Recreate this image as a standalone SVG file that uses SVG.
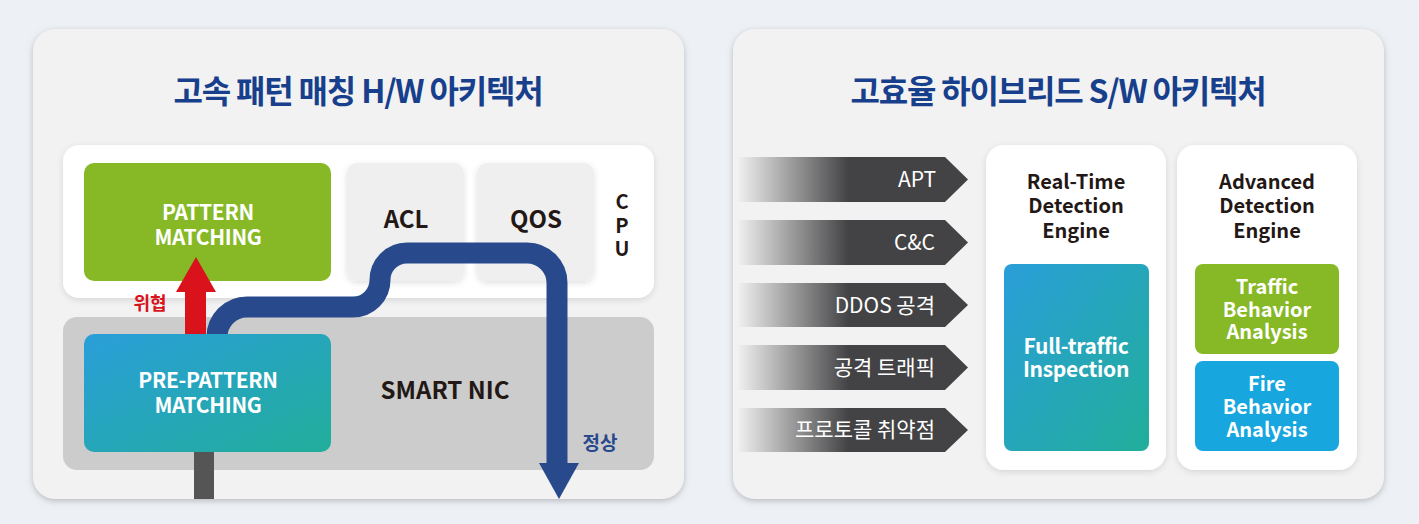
<svg xmlns="http://www.w3.org/2000/svg" width="1419" height="524" viewBox="0 0 1419 524">
<style>
text{font-family:"Noto Sans CJK KR","Noto Sans",sans-serif;}
.title{font-size:32px;font-weight:700;fill:#173f8c;text-anchor:middle;letter-spacing:-1.2px;}
.wt{font-size:21px;font-weight:700;fill:#ffffff;text-anchor:middle;letter-spacing:-0.3px;}
.wt3{font-size:20px;font-weight:700;fill:#ffffff;text-anchor:middle;}
.dk{font-size:22px;font-weight:700;fill:#231815;text-anchor:middle;}
.hd{font-size:20px;font-weight:700;fill:#231815;text-anchor:middle;}
.arr{font-size:21px;font-weight:400;fill:#ffffff;text-anchor:end;}
.panel{fill:#f2f2f2;filter:url(#sh1);}
.card{fill:#ffffff;filter:url(#sh2);}
.soft{fill:#efefef;filter:url(#sh2);}
</style>
<defs>
<filter id="sh1" x="-5%" y="-5%" width="110%" height="112%">
<feDropShadow dx="0" dy="2" stdDeviation="3" flood-color="#8a8a90" flood-opacity="0.55"/>
</filter>
<filter id="sh2" x="-10%" y="-10%" width="120%" height="125%">
<feDropShadow dx="0" dy="2" stdDeviation="3" flood-color="#000000" flood-opacity="0.12"/>
</filter>
<linearGradient id="bt" x1="0" y1="0" x2="1" y2="1">
<stop offset="0" stop-color="#2a9ed9"/>
<stop offset="1" stop-color="#21ae9a"/>
</linearGradient>
<linearGradient id="fade" gradientUnits="userSpaceOnUse" x1="738" y1="0" x2="968" y2="0">
<stop offset="0" stop-color="#f0f0f0"/>
<stop offset="0.48" stop-color="#434345"/>
<stop offset="1" stop-color="#434345"/>
</linearGradient>
</defs>
<rect width="1419" height="524" fill="#edf1f5"/>

<g id="panel-hw">
<rect class="panel" x="33" y="29" width="651" height="470" rx="22"/>
<text class="title" x="358" y="103">고속 패턴 매칭 H/W 아키텍처</text>
</g>
<g id="cpu">
<rect class="card" x="63" y="145" width="591" height="153" rx="16"/>
<text class="dk" style="font-size:20px"><tspan x="622" y="209">C</tspan><tspan x="622" y="233">P</tspan><tspan x="622" y="256">U</tspan></text>
</g>
<g id="pattern-matching">
<rect x="84" y="163" width="247" height="118" rx="10" fill="#86b925"/>
<text class="wt"><tspan x="208" y="220">PATTERN</tspan><tspan x="208" y="245">MATCHING</tspan></text>
</g>
<g id="acl">
<rect class="soft" x="347" y="163" width="117" height="118" rx="10"/>
<text class="dk" x="406" y="228" style="font-size:24px">ACL</text>
</g>
<g id="qos">
<rect class="soft" x="477" y="163" width="117" height="118" rx="10"/>
<text class="dk" x="536" y="228" style="font-size:24px">QOS</text>
</g>
<g id="smart-nic">
<rect x="63" y="317" width="591" height="153" rx="14" fill="#cccccc"/>
<text class="dk" x="445" y="399" style="font-size:24px">SMART NIC</text>
</g>
<g id="connectors">
<rect x="194" y="450" width="20" height="49" fill="#555555"/>
<path d="M185,336 V292 H176 L196,257 L216,292 H206 V336 Z" fill="#d9121b"/>
<text x="150" y="310" style="font-size:18px;font-weight:700;fill:#d9121b;text-anchor:middle">위협</text>
<path d="M217,345 V337 A30,30 0 0 1 247,307 H353 A27,27 0 0 0 380,280 A27,27 0 0 1 407,253 H527 A30,30 0 0 1 557,283 V465" fill="none" stroke="#284a8c" stroke-width="21"/>
<path d="M539,463 H579 L559,499 Z" fill="#284a8c"/>
<text x="600" y="450" style="font-size:19px;font-weight:700;fill:#284a8c;text-anchor:middle">정상</text>
</g>
<g id="pre-pattern-matching">
<rect x="84" y="334" width="247" height="118" rx="10" fill="url(#bt)"/>
<text class="wt"><tspan x="208" y="388">PRE-PATTERN</tspan><tspan x="208" y="413">MATCHING</tspan></text>
</g>

<g id="panel-sw">
<rect class="panel" x="733" y="29" width="651" height="470" rx="22"/>
<text class="title" x="1058" y="103">고효율 하이브리드 S/W 아키텍처</text>
</g>
<g id="threats">
<path d="M738,157 H945 L968,179.5 L945,202 H738 Z" fill="url(#fade)"/>
<text class="arr" x="936" y="187">APT</text>
<path d="M738,220 H945 L968,242.5 L945,265 H738 Z" fill="url(#fade)"/>
<text class="arr" x="935" y="250">C&amp;C</text>
<path d="M738,283 H945 L968,305 L945,327 H738 Z" fill="url(#fade)"/>
<text class="arr" x="935" y="313">DDOS 공격</text>
<path d="M738,345 H945 L968,367.5 L945,390 H738 Z" fill="url(#fade)"/>
<text class="arr" x="935" y="375">공격 트래픽</text>
<path d="M738,408 H945 L968,430 L945,452 H738 Z" fill="url(#fade)"/>
<text class="arr" x="935" y="437">프로토콜 취약점</text>
</g>
<g id="realtime-engine">
<rect class="card" x="986" y="145" width="180" height="325" rx="18"/>
<text class="hd"><tspan x="1076" y="189">Real-Time</tspan><tspan x="1076" y="213">Detection</tspan><tspan x="1076" y="238">Engine</tspan></text>
</g>
<g id="full-traffic">
<rect x="1004" y="264" width="145" height="187" rx="8" fill="url(#bt)"/>
<text class="wt"><tspan x="1076" y="354">Full-traffic</tspan><tspan x="1076" y="377">Inspection</tspan></text>
</g>
<g id="advanced-engine">
<rect class="card" x="1177" y="145" width="180" height="325" rx="18"/>
<text class="hd"><tspan x="1267" y="189">Advanced</tspan><tspan x="1267" y="213">Detection</tspan><tspan x="1267" y="238">Engine</tspan></text>
</g>
<g id="traffic-behavior">
<rect x="1195" y="264" width="144" height="90" rx="8" fill="#86b925"/>
<text class="wt3"><tspan x="1267" y="294">Traffic</tspan><tspan x="1267" y="317">Behavior</tspan><tspan x="1267" y="339">Analysis</tspan></text>
</g>
<g id="fire-behavior">
<rect x="1195" y="361" width="144" height="90" rx="8" fill="#17a6de"/>
<text class="wt3"><tspan x="1267" y="391">Fire</tspan><tspan x="1267" y="414">Behavior</tspan><tspan x="1267" y="437">Analysis</tspan></text>
</g>
</svg>
